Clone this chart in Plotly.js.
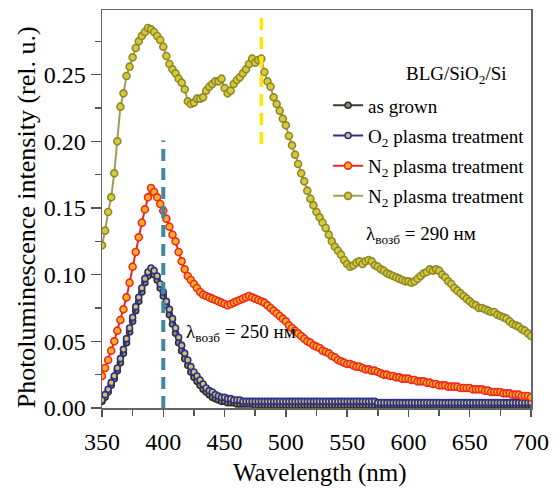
<!DOCTYPE html>
<html>
<head>
<meta charset="utf-8">
<script src="https://cdn.plot.ly/plotly-3.0.1.min.js"></script>
<style>html,body{margin:0;padding:0;background:#fff;}#chart{width:554px;height:488px;}</style>
</head>
<body>
<div id="chart"></div>
<script>
// Wavelength grid (nm), 350..700 step 2.5
const wavelength = [];
for (let w = 350; w <= 700.001; w += 2.5) wavelength.push(Math.round(w * 10) / 10);

// as grown (rows of 25 nm)
const asGrown = [
  0.005,0.008,0.012,0.017,0.022,0.028,0.034,0.041,0.049,0.057,
  0.065,0.073,0.080,0.087,0.094,0.099,0.102,0.100,0.096,0.090,
  0.084,0.077,0.070,0.063,0.056,0.049,0.043,0.037,0.032,0.027,
  0.023,0.020,0.017,0.014,0.012,0.010,0.008,0.007,0.006,0.005,
  0.005,0.004,0.004,0.004,0.003,0.003,0.003,0.003,0.003,0.003,
  0.002,0.002,0.002,0.002,0.002,0.002,0.002,0.002,0.002,0.002,
  0.002,0.002,0.002,0.002,0.002,0.002,0.002,0.002,0.002,0.002,
  0.002,0.002,0.002,0.002,0.002,0.002,0.002,0.002,0.002,0.002,
  0.002,0.002,0.002,0.002,0.002,0.002,0.002,0.002,0.002,0.002,
  0.002,0.002,0.002,0.002,0.002,0.002,0.002,0.002,0.002,0.002,
  0.002,0.002,0.002,0.002,0.002,0.002,0.002,0.002,0.002,0.002,
  0.002,0.002,0.002,0.002,0.002,0.002,0.002,0.002,0.002,0.002,
  0.002,0.002,0.002,0.002,0.002,0.002,0.002,0.002,0.002,0.002,
  0.002,0.002,0.002,0.002,0.002,0.002,0.002,0.002,0.002,0.002,
  0.002];

// O2 plasma treatment
const o2Plasma = [
  0.006,0.010,0.014,0.019,0.024,0.030,0.037,0.044,0.052,0.060,
  0.068,0.076,0.083,0.090,0.097,0.102,0.105,0.103,0.099,0.093,
  0.087,0.080,0.074,0.067,0.060,0.053,0.047,0.041,0.036,0.031,
  0.027,0.024,0.021,0.018,0.015,0.013,0.012,0.010,0.009,0.008,
  0.008,0.007,0.007,0.006,0.006,0.006,0.005,0.005,0.005,0.005,
  0.005,0.005,0.005,0.005,0.005,0.005,0.005,0.005,0.005,0.005,
  0.005,0.005,0.005,0.005,0.005,0.005,0.005,0.005,0.005,0.005,
  0.005,0.005,0.005,0.005,0.005,0.005,0.005,0.005,0.005,0.005,
  0.005,0.005,0.005,0.005,0.005,0.005,0.005,0.005,0.005,0.005,
  0.004,0.004,0.004,0.004,0.004,0.004,0.004,0.004,0.004,0.004,
  0.004,0.004,0.004,0.004,0.004,0.004,0.004,0.004,0.004,0.004,
  0.004,0.004,0.004,0.004,0.004,0.004,0.004,0.004,0.004,0.004,
  0.004,0.004,0.004,0.004,0.004,0.004,0.004,0.004,0.004,0.004,
  0.004,0.004,0.004,0.004,0.004,0.004,0.004,0.004,0.004,0.004,
  0.004];

// N2 plasma treatment (excitation 250 nm)
const n2Plasma250 = [
  0.024,0.030,0.036,0.043,0.050,0.058,0.066,0.074,0.083,0.094,
  0.106,0.117,0.128,0.139,0.149,0.158,0.165,0.162,0.158,0.153,
  0.148,0.142,0.136,0.130,0.125,0.117,0.110,0.104,0.099,0.096,
  0.093,0.090,0.087,0.085,0.084,0.083,0.082,0.081,0.080,0.079,
  0.078,0.077,0.078,0.079,0.080,0.081,0.082,0.083,0.084,0.083,
  0.082,0.081,0.080,0.079,0.077,0.075,0.073,0.071,0.069,0.067,
  0.065,0.062,0.060,0.058,0.056,0.054,0.052,0.050,0.049,0.047,
  0.046,0.045,0.043,0.042,0.041,0.039,0.038,0.036,0.035,0.034,
  0.033,0.033,0.032,0.031,0.031,0.030,0.029,0.029,0.028,0.028,
  0.027,0.026,0.025,0.025,0.024,0.024,0.023,0.023,0.022,0.022,
  0.022,0.021,0.021,0.020,0.020,0.020,0.019,0.019,0.018,0.018,
  0.017,0.017,0.017,0.016,0.016,0.016,0.016,0.015,0.015,0.015,
  0.015,0.014,0.014,0.014,0.014,0.013,0.013,0.012,0.012,0.012,
  0.012,0.011,0.011,0.011,0.010,0.010,0.010,0.009,0.009,0.009,
  0.008];

// N2 plasma treatment (excitation 290 nm)
const n2Plasma290 = [
  0.122,0.133,0.147,0.158,0.176,0.200,0.226,0.236,0.249,0.256,
  0.263,0.270,0.275,0.279,0.282,0.285,0.284,0.282,0.279,0.276,
  0.271,0.264,0.258,0.254,0.251,0.247,0.244,0.239,0.230,0.228,
  0.229,0.232,0.232,0.233,0.238,0.241,0.243,0.245,0.245,0.247,
  0.240,0.236,0.238,0.243,0.246,0.248,0.251,0.254,0.258,0.262,
  0.259,0.261,0.262,0.252,0.245,0.241,0.233,0.228,0.223,0.217,
  0.212,0.204,0.197,0.190,0.183,0.176,0.170,0.163,0.157,0.152,
  0.147,0.143,0.139,0.135,0.130,0.125,0.121,0.118,0.115,0.111,
  0.108,0.106,0.107,0.109,0.110,0.108,0.110,0.111,0.110,0.107,
  0.106,0.104,0.103,0.101,0.100,0.099,0.098,0.097,0.096,0.095,
  0.095,0.094,0.095,0.097,0.099,0.101,0.102,0.104,0.103,0.104,
  0.103,0.100,0.098,0.095,0.093,0.090,0.088,0.086,0.084,0.082,
  0.080,0.078,0.077,0.075,0.075,0.074,0.073,0.072,0.072,0.070,
  0.069,0.068,0.067,0.065,0.063,0.062,0.061,0.059,0.058,0.056,
  0.054];

const seriesNames = ['as grown', 'O<sub>2</sub> plasma treatment', 'N<sub>2</sub> plasma treatment', 'N<sub>2</sub> plasma treatment'];
const legendTitle = 'BLG/SiO<sub>2</sub>/Si';
const note250 = 'λ<sub>возб</sub> = 250 нм';
const note290 = 'λ<sub>возб</sub> = 290 нм';
const xTitle = 'Wavelength (nm)';
const yTitle = 'Photoluminescence intensity (rel. u.)';
const xTicks = [350,400,450,500,550,600,650,700];
const yTicks = [0,0.05,0.10,0.15,0.20,0.25];
const yTickText = ['0.00','0.05','0.10','0.15','0.20','0.25'];
const marker400 = [400, 0, 0.2007];
const marker480 = [480, 0.198, 0.297];

const FONT = 'Liberation Serif, Times New Roman, serif';

function mk(y, name, lineColor, fillColor, rim, size, grp) {
  return {
    x: wavelength, y: y, name: name, type: 'scatter', mode: 'lines+markers',
    legendgroup: grp,
    line: {color: lineColor, width: 2},
    marker: {size: size, color: fillColor, line: {color: rim, width: 1.6}}
  };
}

const traces = [
  mk(asGrown, seriesNames[0], '#3a3a3a', '#8e8c6a', '#2e2e2e', 6, 'g1'),
  mk(o2Plasma, seriesNames[1], '#2b2f94', '#d2c55a', '#2b2f94', 6, 'g2'),
  mk(n2Plasma250, seriesNames[2], '#ee2424', '#ffb21e', '#ee2a22', 7, 'g3'),
  mk(n2Plasma290, seriesNames[3], '#a29d5a', '#d6cb36', '#8e8a2c', 7, 'g4')
];

const layout = {
  width: 554, height: 488,
  margin: {l: 102, r: 23, t: 10, b: 80},
  paper_bgcolor: '#fff', plot_bgcolor: '#fff',
  font: {family: FONT, color: '#000', size: 19},
  showlegend: true,
  legend: {
    x: 0.527, y: 0.808, xanchor: 'left', yanchor: 'top',
    bgcolor: 'rgba(0,0,0,0)', font: {family: FONT, size: 19, color: '#000'},
    traceorder: 'grouped', tracegroupgap: 2.5
  },
  xaxis: {
    range: [350, 700], tickvals: xTicks, ticks: 'outside', ticklen: 7, tickwidth: 1.5, tickcolor: '#555',
    minor: {dtick: 25, tick0: 350, ticks: 'outside', ticklen: 6, tickwidth: 1.5, tickcolor: '#555'},
    showline: true, linecolor: '#666', linewidth: 1.5, mirror: true,
    showgrid: false, zeroline: false,
    tickfont: {family: FONT, size: 24, color: '#000'}, ticklabelstandoff: 5
  },
  yaxis: {
    range: [0, 0.2985], tickvals: yTicks, ticktext: yTickText, ticks: 'outside', ticklen: 10, tickwidth: 1.5, tickcolor: '#555',
    minor: {dtick: 0.025, tick0: 0, ticks: 'outside', ticklen: 6, tickwidth: 1.5, tickcolor: '#555'},
    showline: true, linecolor: '#666', linewidth: 1.5, mirror: true,
    showgrid: false, zeroline: false,
    tickfont: {family: FONT, size: 24, color: '#000'}
  },
  shapes: [
    {type: 'line', xref: 'x', yref: 'y', x0: marker400[0], x1: marker400[0], y0: marker400[1], y1: marker400[2], line: {color: '#3f87a3', width: 4, dash: '12px,7px'}},
    {type: 'line', xref: 'x', yref: 'y', x0: marker480[0], x1: marker480[0], y0: marker480[1], y1: marker480[2], line: {color: '#ffe600', width: 3.5, dash: '12px,7px'}}
  ],
  annotations: [
    {text: xTitle, xref: 'paper', yref: 'paper', x: 0.507, y: -0.163, xanchor: 'center', yanchor: 'middle', showarrow: false, font: {family: FONT, size: 25, color: '#000'}},
    {text: yTitle, xref: 'paper', yref: 'paper', x: -0.174, y: 0.48, xanchor: 'center', yanchor: 'middle', textangle: -90, showarrow: false, font: {family: FONT, size: 26, color: '#000'}},
    {text: legendTitle, xref: 'paper', yref: 'paper', x: 0.8275, y: 0.8367, xanchor: 'center', yanchor: 'middle', showarrow: false, font: {family: FONT, size: 19, color: '#000'}},
    {text: note290, xref: 'paper', yref: 'paper', x: 0.61, y: 0.4347, xanchor: 'left', yanchor: 'middle', showarrow: false, font: {family: FONT, size: 19, color: '#000'}},
    {text: note250, xref: 'paper', yref: 'paper', x: 0.19, y: 0.1884, xanchor: 'left', yanchor: 'middle', showarrow: false, font: {family: FONT, size: 19, color: '#000'}}
  ]
};

Plotly.newPlot('chart', traces, layout, {displayModeBar: false, staticPlot: true});
</script>
</body>
</html>
